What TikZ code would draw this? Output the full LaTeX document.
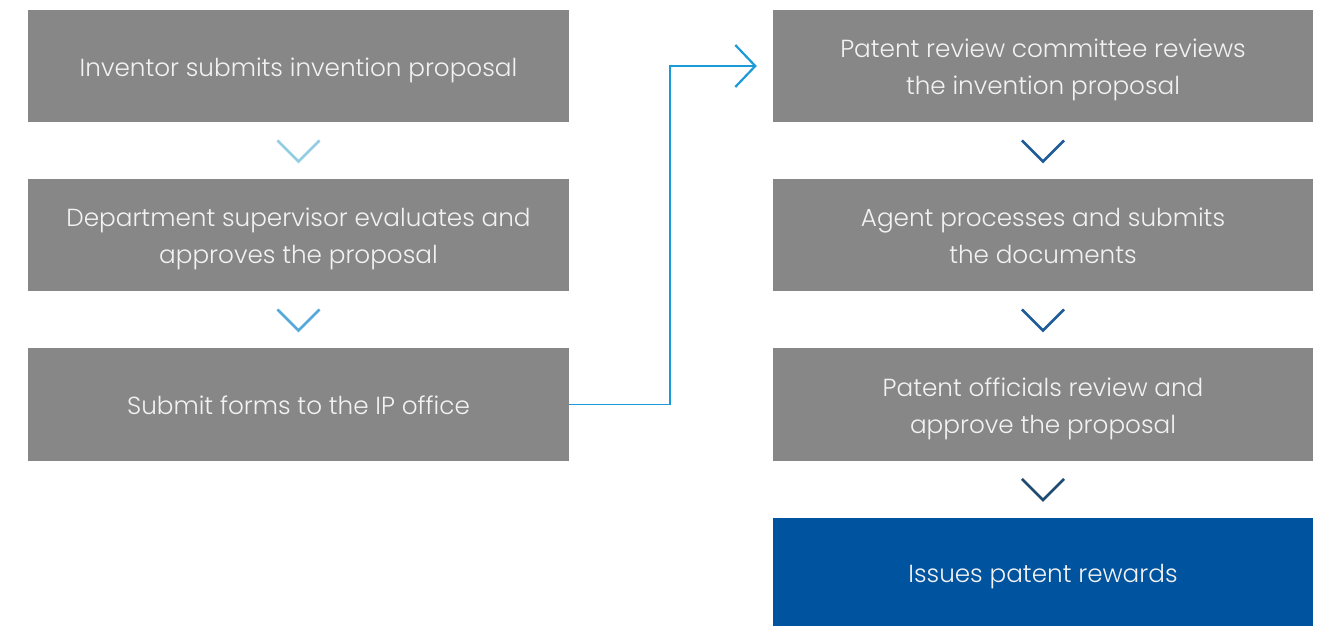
\documentclass[tikz,border=0pt]{standalone}
\usepackage{fontspec}
\setmainfont{Poppins Light}
\usetikzlibrary{arrows.meta,calc}
\definecolor{boxgray}{HTML}{878787}
\definecolor{boxblue}{HTML}{00539F}
\definecolor{txt}{HTML}{F2F2F2}
\definecolor{chevA}{HTML}{93CDE2}
\definecolor{chevB}{HTML}{55A8DA}
\definecolor{chevC}{HTML}{1F5C99}
\definecolor{chevD}{HTML}{1E4B72}
\definecolor{conn}{HTML}{1A9AD6}
\newcommand\boxtxt[1]{\raisebox{-3pt}[\height][\depth]{\begin{tabular}{@{}c@{}}#1\end{tabular}}}
\tikzset{
  stepbox/.style={rectangle, fill=boxgray, minimum width=541pt, minimum height=112.5pt, inner sep=0pt,
    text=txt, font=\fontsize{24.7}{37}\selectfont},
  chev/.style={line width=2.6pt, line cap=butt, line join=miter}
}
\begin{document}
\begin{tikzpicture}[x=1pt,y=-1pt]
\useasboundingbox (0,0) rectangle (1329,626);
\node[stepbox] (l1) at (298.5,66) {\boxtxt{Inventor submits invention proposal}};
\node[stepbox] (l2) at (298.5,235) {\boxtxt{Department supervisor evaluates and\\approves the proposal}};
\node[stepbox] (l3) at (298.5,404.5) {\boxtxt{Submit forms to the IP office}};
\node[stepbox, minimum width=540pt] (r1) at (1043,66) {\boxtxt{Patent review committee reviews\\the invention proposal}};
\node[stepbox, minimum width=540pt] (r2) at (1043,235) {\boxtxt{Agent processes and submits\\the documents}};
\node[stepbox, minimum width=540pt] (r3) at (1043,404.5) {\boxtxt{Patent officials review and\\approve the proposal}};
\node[stepbox, minimum width=540pt, minimum height=108pt, fill=boxblue] (r4) at (1043,572) {\boxtxt{Issues patent rewards}};
% chevrons
\draw[chev, chevA] ($(l1.south)+(-21,18)$) -- ($(l1.south)+(0,39)$) -- ($(l1.south)+(21,18)$);
\draw[chev, chevB] ($(l2.south)+(-21,18)$) -- ($(l2.south)+(0,39)$) -- ($(l2.south)+(21,18)$);
\draw[chev, chevC] ($(r1.south)+(-21,18)$) -- ($(r1.south)+(0,39)$) -- ($(r1.south)+(21,18)$);
\draw[chev, chevC] ($(r2.south)+(-21,18)$) -- ($(r2.south)+(0,39)$) -- ($(r2.south)+(21,18)$);
\draw[chev, chevD] ($(r3.south)+(-21,18)$) -- ($(r3.south)+(0,39)$) -- ($(r3.south)+(21,18)$);
% connector
\draw[conn, line width=1.5pt, shorten >=16pt, -{Straight Barb[length=20pt,width=42pt,line width=2.2pt]}]
  (l3.east) -- ++(101,0) |- (r1.west);
\end{tikzpicture}
\end{document}
